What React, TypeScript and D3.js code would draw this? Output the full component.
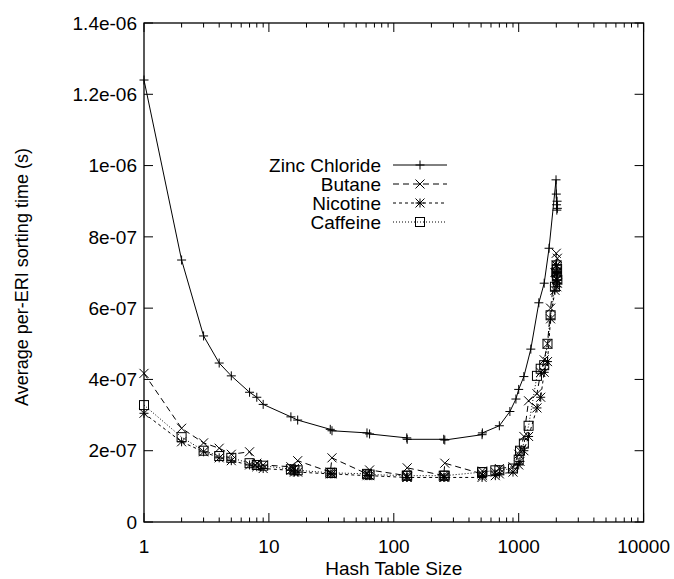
import React from "react";
import * as d3 from "d3";

const xTicks = [1, 10, 100, 1000, 10000];
const xTickLabels = ["1", "10", "100", "1000", "10000"];
const yTicks = [0, 2e-7, 4e-7, 6e-7, 8e-7, 1e-6, 1.2e-6, 1.4e-6];
const yTickLabels = ["0", "2e-07", "4e-07", "6e-07", "8e-07", "1e-06", "1.2e-06", "1.4e-06"];

const zincX = [1, 2, 3, 4, 5, 7, 8, 9, 15, 17, 31, 32, 61, 64, 127, 128, 251, 256, 509, 512, 700, 850, 950, 1000, 1100, 1250, 1450, 1600, 1750, 1990, 2000, 2010, 2020, 2030, 2040];
const zincY = [1.24, 0.735, 0.522, 0.446, 0.41, 0.364, 0.35, 0.33, 0.295, 0.286, 0.26, 0.256, 0.25, 0.247, 0.236, 0.232, 0.232, 0.23, 0.245, 0.25, 0.27, 0.31, 0.345, 0.372, 0.408, 0.485, 0.615, 0.67, 0.768, 0.96, 0.92, 0.89, 0.875, 0.9, 0.88];

const otherX = [1, 2, 3, 4, 5, 7, 8, 9, 15, 16, 17, 31, 32, 61, 64, 127, 128, 251, 256, 509, 512, 650, 700, 900, 1000, 1024, 1100, 1200, 1400, 1500, 1600, 1700, 1800, 1950, 2000, 2010, 2020, 2030, 2040];
const butaneY = [0.417, 0.263, 0.222, 0.207, 0.19, 0.197, 0.165, 0.16, 0.155, 0.15, 0.172, 0.14, 0.18, 0.135, 0.146, 0.13, 0.152, 0.13, 0.165, 0.135, 0.143, 0.14, 0.15, 0.155, 0.19, 0.2, 0.24, 0.34, 0.36, 0.42, 0.455, 0.5, 0.6, 0.7, 0.754, 0.72, 0.7, 0.68, 0.74];
const nicotineY = [0.305, 0.225, 0.197, 0.18, 0.172, 0.16, 0.155, 0.15, 0.145, 0.14, 0.14, 0.135, 0.135, 0.13, 0.13, 0.125, 0.125, 0.125, 0.125, 0.125, 0.13, 0.13, 0.135, 0.14, 0.16, 0.17, 0.2, 0.24, 0.32, 0.35, 0.42, 0.45, 0.57, 0.65, 0.72, 0.68, 0.66, 0.7, 0.67];
const caffeineY = [0.328, 0.238, 0.2, 0.185, 0.18, 0.165, 0.16, 0.158, 0.148, 0.145, 0.145, 0.138, 0.138, 0.135, 0.133, 0.13, 0.13, 0.13, 0.13, 0.14, 0.14, 0.145, 0.145, 0.15, 0.175, 0.2, 0.22, 0.27, 0.41, 0.43, 0.44, 0.5, 0.58, 0.66, 0.7, 0.72, 0.69, 0.71, 0.68];

const seriesNames = ["Zinc Chloride", "Butane", "Nicotine", "Caffeine"];

const W = 674, H = 579;
const L = 144, R = 643.6, T = 23, B = 522;
const FONT = "'Liberation Sans', Arial, Helvetica, sans-serif";
const FS = 19;

type Pt = { x: number; y: number };

function Marker({ kind, cx, cy }: { kind: string; cx: number; cy: number }) {
  const s = 4.5;
  const st = { stroke: "#000", strokeWidth: 1, fill: "none" };
  if (kind === "plus")
    return <path d={`M${cx - s},${cy}H${cx + s}M${cx},${cy - s}V${cy + s}`} {...st} />;
  if (kind === "cross")
    return <path d={`M${cx - s},${cy - s}L${cx + s},${cy + s}M${cx - s},${cy + s}L${cx + s},${cy - s}`} {...st} />;
  if (kind === "star")
    return <path d={`M${cx - s},${cy}H${cx + s}M${cx},${cy - s}V${cy + s}M${cx - s},${cy - s}L${cx + s},${cy + s}M${cx - s},${cy + s}L${cx + s},${cy - s}`} {...st} />;
  return <rect x={cx - s} y={cy - s} width={2 * s} height={2 * s} {...st} />;
}

export default function App() {
  const x = d3.scaleLog().domain([1, 10000]).range([L, R]);
  const y = d3.scaleLinear().domain([0, 1.4e-6]).range([B, T]);
  const mk = (xs: number[], ys: number[]): Pt[] => xs.map((v, i) => ({ x: v, y: ys[i] * 1e-6 }));
  const series = [
    { name: seriesNames[0], data: mk(zincX, zincY), dash: "none", marker: "plus" },
    { name: seriesNames[1], data: mk(otherX, butaneY), dash: "6,4", marker: "cross" },
    { name: seriesNames[2], data: mk(otherX, nicotineY), dash: "3,3", marker: "star" },
    { name: seriesNames[3], data: mk(otherX, caffeineY), dash: "1,2", marker: "box" },
  ];
  const line = d3.line<Pt>().x((d) => x(d.x)).y((d) => y(d.y));
  const minor: number[] = [];
  for (let e = 0; e < 4; e++) for (let k = 2; k <= 9; k++) minor.push(k * Math.pow(10, e));
  const major = 9, minorLen = 4.5;

  return (
    <div style={{ position: "absolute", left: 0, top: 0 }}>
      <svg width={W} height={H} style={{ display: "block", background: "#fff" }} fontFamily={FONT}>
        <rect x={0} y={0} width={W} height={H} fill="#fff" />
        {yTicks.map((t) => (
          <g key={"y" + t}>
            <line x1={L} x2={L + major} y1={y(t)} y2={y(t)} stroke="#000" />
            <line x1={R} x2={R - major} y1={y(t)} y2={y(t)} stroke="#000" />
          </g>
        ))}
        {xTicks.map((t) => (
          <g key={"x" + t}>
            <line x1={x(t)} x2={x(t)} y1={B} y2={B - major} stroke="#000" />
            <line x1={x(t)} x2={x(t)} y1={T} y2={T + major} stroke="#000" />
          </g>
        ))}
        {minor.map((t) => (
          <g key={"m" + t}>
            <line x1={x(t)} x2={x(t)} y1={B} y2={B - minorLen} stroke="#000" />
            <line x1={x(t)} x2={x(t)} y1={T} y2={T + minorLen} stroke="#000" />
          </g>
        ))}
        {yTicks.map((t, i) => (
          <text key={"yl" + t} x={L - 7} y={y(t)} dy="0.35em" textAnchor="end" fontSize={FS}>
            {yTickLabels[i]}
          </text>
        ))}
        {xTicks.map((t, i) => (
          <text key={"xl" + t} x={x(t)} y={B + 24} dy="0.35em" textAnchor="middle" fontSize={FS}>
            {xTickLabels[i]}
          </text>
        ))}
        <text x={(L + R) / 2} y={568} dy="0.35em" textAnchor="middle" fontSize={FS}>
          Hash Table Size
        </text>
        <text transform={`translate(22,277) rotate(-90)`} dy="0.35em" textAnchor="middle" fontSize={18}>
          Average per-ERI sorting time (s)
        </text>
        {series.map((s) => (
          <g key={s.name}>
            <path d={line(s.data) || ""} fill="none" stroke="#000" strokeWidth={1} strokeDasharray={s.dash} />
            {s.data.map((d, i) => (
              <Marker key={i} kind={s.marker} cx={x(d.x)} cy={y(d.y)} />
            ))}
          </g>
        ))}
        {series.map((s, i) => {
          const ly = 165 + i * 19;
          return (
            <g key={"lg" + s.name}>
              <text x={381} y={ly} dy="0.35em" textAnchor="end" fontSize={FS}>
                {s.name}
              </text>
              <line x1={393} x2={447} y1={ly} y2={ly} stroke="#000" strokeDasharray={s.dash} />
              <Marker kind={s.marker} cx={420} cy={ly} />
            </g>
          );
        })}
        <rect x={L} y={T} width={R - L} height={B - T} fill="none" stroke="#000" strokeWidth={1.3} />
      </svg>
    </div>
  );
}
